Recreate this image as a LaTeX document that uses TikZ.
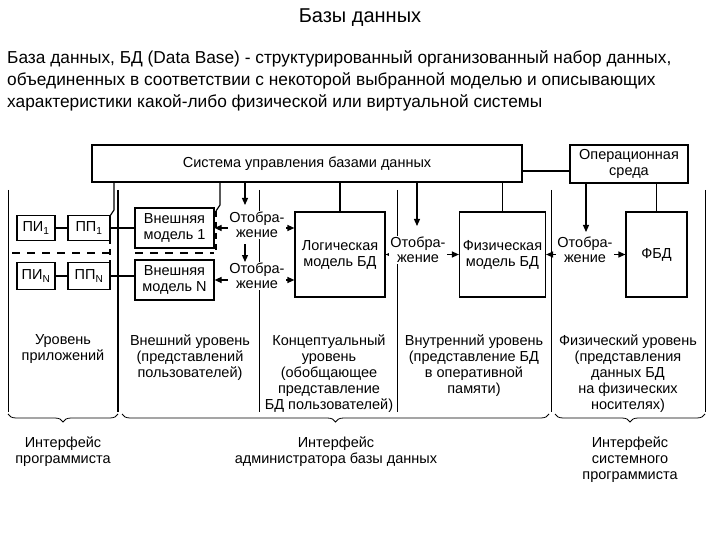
\documentclass[tikz,border=0pt]{standalone}
\usepackage{fontspec}
\setmainfont{Liberation Sans}
\usetikzlibrary{arrows.meta,decorations.pathreplacing}
\begin{document}
\begin{tikzpicture}[x=1pt,y=-1pt,
  box/.style={draw,line width=1.2pt,fill=white,inner sep=0pt,align=center,font=\fontsize{14.5}{16}\selectfont},
  lbl/.style={fill=white,inner sep=1pt,align=center,font=\fontsize{14.5}{15}\selectfont},
  txt/.style={align=center,font=\fontsize{14.5}{16}\selectfont,anchor=north},
  ln/.style={line width=1.2pt},
  sep/.style={line width=0.8pt},
  arr/.style={line width=1.2pt,-{Triangle[length=7pt,width=6pt]}},
  darr/.style={line width=1.2pt,{Triangle[length=7pt,width=6pt]}-{Triangle[length=7pt,width=6pt]}},
  brace/.style={decorate,decoration={brace,mirror,amplitude=8pt},line width=0.8pt}]
\useasboundingbox (0,0) rectangle (720,540);
\node (title) at (360,18) {\fontsize{20}{24}\selectfont Базы данных};
\node[anchor=north west,align=left,font=\fontsize{17.3}{22}\selectfont,inner sep=0pt] (def) at (7,50)
 {База данных, БД (Data Base) - структурированный организованный набор данных,\\
  объединенных в соответствии с некоторой выбранной моделью и описывающих\\
  характеристики какой-либо физической или виртуальной системы};
% separators
\draw[sep] (8,190) -- (8,412);
\draw[line width=1.6pt] (118,190) -- (118,412);
\draw[sep] (259,190) -- (259,412);
\draw[sep] (397,190) -- (397,412);
\draw[sep] (551,190) -- (551,412);
\draw[sep] (705,190) -- (705,412);
% top boxes
\node[box,minimum width=430pt,minimum height=37pt] (dbms) at (307,163.5) {Система управления базами данных};
\node[box,minimum width=118pt,minimum height=38pt] (os) at (629,164) {Операционная\\среда};
\draw[ln] (dbms.east |- 0,171) -- (os.west |- 0,171);
% app boxes
\node[box,minimum width=38pt,minimum height=25pt] (pi1) at (36,228) {ПИ\textsubscript{1}};
\node[box,minimum width=42pt,minimum height=25pt] (pp1) at (89,228) {ПП\textsubscript{1}};
\node[box,minimum width=38pt,minimum height=27pt] (pin) at (36,276) {ПИ\textsubscript{N}};
\node[box,minimum width=42pt,minimum height=27pt] (ppn) at (89,276) {ПП\textsubscript{N}};
\node[box,minimum width=79pt,minimum height=40pt] (em1) at (174.5,228) {Внешняя\\модель 1};
\node[box,minimum width=79pt,minimum height=40pt] (emn) at (174.5,280) {Внешняя\\модель N};
\draw[ln] (pi1) -- (pp1); \draw[ln] (pin) -- (ppn);
\draw[ln] (pp1.east) -- (em1.west |- pp1.east);
\draw[ln] (ppn.east) -- (emn.west |- ppn.east);
\draw[ln,dash pattern=on 8pt off 7pt] (12,253) -- (110,253);
\draw[ln,dash pattern=on 8pt off 7pt] (135,253) -- (214,253);
% dbms links to external area
\coordinate (a1) at (114,210); \coordinate (a2) at (110,216);
\draw[ln] (dbms.south -| 114,0) -- (a1) -- (a2);
\draw[ln,dash pattern=on 6pt off 5pt] (a2) -- (110,262);
\coordinate (b1) at (220,205); \coordinate (b2) at (216,211);
\draw[ln] (dbms.south -| 220,0) -- (b1) -- (b2);
\draw[ln,dash pattern=on 6pt off 5pt] (b2) -- (216,252);
% main boxes
\node[box,minimum width=90pt,minimum height=85pt] (lm) at (340,254.5) {Логическая\\модель БД};
\node[box,minimum width=86pt,minimum height=85pt] (pm) at (502.5,254.5) {Физическая\\модель БД};
\node[box,minimum width=61pt,minimum height=85pt] (fbd) at (656.5,254.5) {ФБД};
\draw[ln] (dbms.south -| lm.north) -- (lm.north);
\draw[ln] (dbms.south -| pm.north) -- (pm.north);
\draw[ln] (os.south -| fbd.north) -- (fbd.north);
% mapping arrows
\coordinate (m1) at (245,205); \coordinate (m2) at (245,244); \coordinate (m3) at (245,262);
\draw[arr] (dbms.south -| m1) -- (m1);
\draw[arr] (m2) -- (m3);
\coordinate (m4) at (417,226);
\draw[arr] (dbms.south -| m4) -- (m4);
\coordinate (m5) at (586,232);
\draw[arr] (os.south -| m5) -- (m5);
\draw[darr] (em1.east) -- (lm.west |- em1.east);
\draw[darr] (emn.east) -- (lm.west |- emn.east);
\draw[darr] (lm.east) -- (pm.west);
\draw[darr] (pm.east) -- (fbd.west);
\node[lbl] (o1) at (257,225) {Отобра-\\жение};
\node[lbl] (o2) at (257,276) {Отобра-\\жение};
\node[lbl] (o3) at (418,250) {Отобра-\\жение};
\node[lbl] (o4) at (585,250) {Отобра-\\жение};
% level texts
\node[txt] (l1) at (63,331) {Уровень\\приложений};
\node[txt] (l2) at (190,331) {Внешний уровень\\(представлений\\пользователей)};
\node[txt] (l3) at (329,331) {Концептуальный\\уровень\\(обобщающее\\представление\\БД пользователей)};
\node[txt] (l4) at (474,331) {Внутренний уровень\\(представление БД\\в оперативной\\памяти)};
\node[txt] (l5) at (628,331) {Физический уровень\\(представления\\данных БД\\на физических\\носителях)};
% braces
\draw[brace] (8,414) -- (118,414);
\draw[brace] (122,414) -- (549,414);
\draw[brace] (555,414) -- (705,414);
\node[txt] (i1) at (63,433) {Интерфейс\\программиста};
\node[txt] (i2) at (336,433) {Интерфейс\\администратора базы данных};
\node[txt] (i3) at (630,433) {Интерфейс\\системного\\программиста};
\end{tikzpicture}
\end{document}
